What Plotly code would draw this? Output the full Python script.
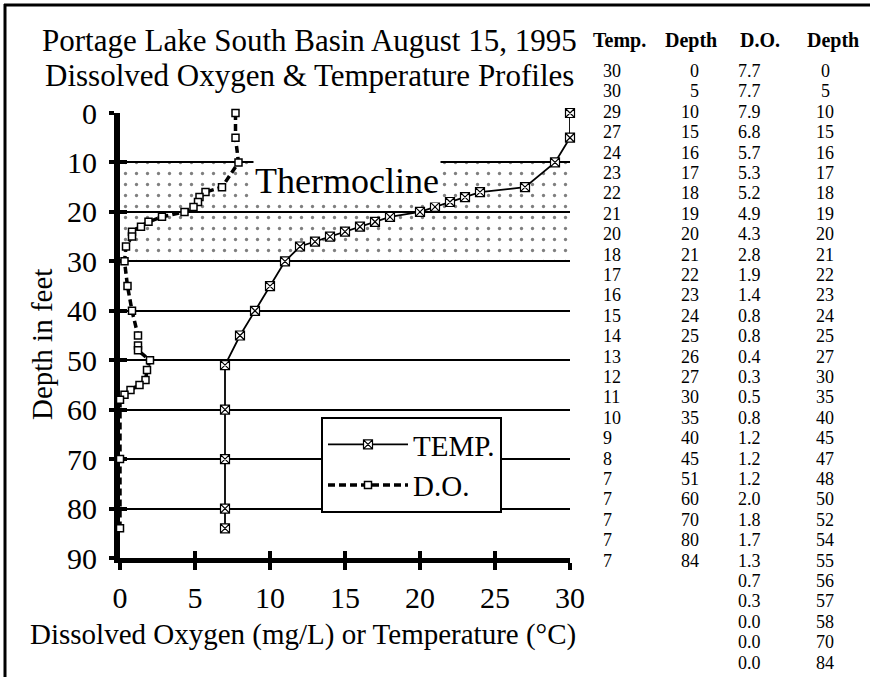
import plotly.graph_objects as go

# ---------------- data ----------------
temp_c = [30, 30, 29, 27, 24, 23, 22, 21, 20, 18, 17, 16, 15, 14, 13, 12, 11, 10, 9, 8, 7, 7, 7, 7, 7]
temp_depth_ft = [0, 5, 10, 15, 16, 17, 18, 19, 20, 21, 22, 23, 24, 25, 26, 27, 30, 35, 40, 45, 51, 60, 70, 80, 84]
do_mgl = [7.7, 7.7, 7.9, 6.8, 5.7, 5.3, 5.2, 4.9, 4.3, 2.8, 1.9, 1.4, 0.8, 0.8, 0.4, 0.3, 0.5, 0.8,
          1.2, 1.2, 1.2, 2.0, 1.8, 1.7, 1.3, 0.7, 0.3, 0.0, 0.0, 0.0]
do_depth_ft = [0, 5, 10, 15, 16, 17, 18, 19, 20, 21, 22, 23, 24, 25, 27, 30, 35, 40, 45, 47, 48, 50,
               52, 54, 55, 56, 57, 58, 70, 84]
x_ticks = [0, 5, 10, 15, 20, 25, 30]
y_ticks = [0, 10, 20, 30, 40, 50, 60, 70, 80, 90]
x_range = [0, 30]
y_range = [90, 0]
thermocline_depth_ft = [10, 30]
table_headers = ["Temp.", "Depth", "D.O.", "Depth"]
title_lines = ["Portage Lake South Basin August 15, 1995", "Dissolved Oxygen & Temperature Profiles"]

# ---------------- geometry ----------------
W, H = 870, 677
L, T, R, B = 120, 113, 300, 119
PW, PH = W - L - R, H - T - B
FONT = "Liberation Serif, Times New Roman, serif"


def xp(px):
    return (px - L) / PW


def yp(py):
    return (T + PH - py) / PH


fig = go.Figure()

# Thermocline band (dotted)
fig.add_trace(go.Scatter(
    x=[x_range[0], x_range[1], x_range[1], x_range[0], x_range[0]],
    y=[thermocline_depth_ft[0], thermocline_depth_ft[0], thermocline_depth_ft[1], thermocline_depth_ft[1],
       thermocline_depth_ft[0]],
    mode="none", fill="toself", fillcolor="rgba(0,0,0,0)",
    fillpattern=dict(shape=".", size=11, solidity=0.07, fgcolor="black", bgcolor="rgba(0,0,0,0)"),
    showlegend=False, hoverinfo="skip", xaxis="x", yaxis="y",
))

fig.add_trace(go.Scatter(
    x=temp_c, y=temp_depth_ft, name="TEMP.", mode="lines+markers",
    line=dict(color="black", width=1.8),
    marker=dict(symbol="square-x", size=9, color="white", line=dict(color="black", width=1.2)),
    cliponaxis=False, xaxis="x2", yaxis="y2",
))
fig.add_trace(go.Scatter(
    x=do_mgl, y=do_depth_ft, name="D.O.", mode="lines+markers",
    line=dict(color="black", width=3.5, dash="7px,4px"),
    marker=dict(symbol="square", size=7, color="white", line=dict(color="black", width=1.5)),
    cliponaxis=False, xaxis="x2", yaxis="y2",
))

ann = []
# Title
ann.append(dict(text=title_lines[0], x=xp(309), y=yp(40.5), xref="paper", yref="paper",
                showarrow=False, font=dict(size=31), xanchor="center", yanchor="middle", borderpad=0))
ann.append(dict(text=title_lines[1], x=xp(309), y=yp(75.5), xref="paper", yref="paper",
                showarrow=False, font=dict(size=31), xanchor="center", yanchor="middle", borderpad=0))
# Axis titles
ann.append(dict(text="Depth in feet", x=xp(42), y=yp(345), xref="paper", yref="paper", textangle=-90,
                showarrow=False, font=dict(size=29), xanchor="center", yanchor="middle"))
ann.append(dict(text="Dissolved Oxygen (mg/L) or Temperature (°C)", x=xp(303), y=yp(634), xref="paper",
                yref="paper", showarrow=False, font=dict(size=29), xanchor="center", yanchor="middle"))
# Thermocline label
ann.append(dict(text="Thermocline", x=xp(347), y=yp(181), xref="paper", yref="paper",
                showarrow=False, font=dict(size=36), xanchor="center", yanchor="middle",
                bgcolor="white", borderpad=1))

# Table
hdr_x = [592, 664, 739, 806]
for h, hx in zip(table_headers, hdr_x):
    ann.append(dict(text="<b>" + h + "</b>", x=xp(hx), y=yp(40), xref="paper", yref="paper",
                    showarrow=False, font=dict(size=20), xanchor="left", yanchor="middle", borderpad=0))
row0, dy = 71, 20.4
TF = 18
for i, (t, d) in enumerate(zip(temp_c, temp_depth_ft)):
    yy = yp(row0 + i * dy)
    ann.append(dict(text=str(t), x=xp(602), y=yy, xref="paper", yref="paper", showarrow=False,
                    font=dict(size=TF), xanchor="left", yanchor="middle", borderpad=0))
    ann.append(dict(text=str(d), x=xp(700), y=yy, xref="paper", yref="paper", showarrow=False,
                    font=dict(size=TF), xanchor="right", yanchor="middle", borderpad=0))
for i, (o, d) in enumerate(zip(do_mgl, do_depth_ft)):
    yy = yp(row0 + i * dy)
    ann.append(dict(text=f"{o:.1f}", x=xp(737), y=yy, xref="paper", yref="paper", showarrow=False,
                    font=dict(size=TF), xanchor="left", yanchor="middle", borderpad=0))
    ann.append(dict(text=str(d), x=xp(825), y=yy, xref="paper", yref="paper", showarrow=False,
                    font=dict(size=TF), xanchor="center", yanchor="middle", borderpad=0))

shapes = [
    dict(type="line", xref="paper", yref="paper", x0=xp(4), x1=xp(W), y0=yp(5), y1=yp(5),
         line=dict(color="black", width=3)),
    dict(type="line", xref="paper", yref="paper", x0=xp(5), x1=xp(5), y0=yp(4), y1=yp(H),
         line=dict(color="black", width=3)),
]

axis_common = dict(showgrid=False, zeroline=False, tickcolor="black", linecolor="black", fixedrange=True)
fig.update_layout(
    width=W, height=H,
    margin=dict(l=L, r=R, t=T, b=B, pad=0),
    paper_bgcolor="white", plot_bgcolor="white",
    font=dict(family=FONT, color="black"),
    xaxis=dict(range=x_range, tickvals=x_ticks, ticks="outside", ticklen=7, tickwidth=4,
               showline=True, linewidth=5, tickfont=dict(size=30), ticklabelstandoff=2,
               layer="below traces", **axis_common),
    yaxis=dict(range=y_range, tickvals=y_ticks, ticks="outside", ticklen=5, tickwidth=4,
               showline=True, linewidth=6, tickfont=dict(size=30), ticklabelstandoff=6,
               layer="below traces",
               **{**axis_common, "showgrid": True}, gridcolor="black", gridwidth=1.5),
    xaxis2=dict(range=x_range, tickvals=x_ticks, ticks="inside", ticklen=7, tickwidth=4,
                showticklabels=False, overlaying="x", anchor="y2", side="bottom", showline=False,
                layer="below traces", **axis_common),
    yaxis2=dict(range=y_range, tickvals=y_ticks, ticks="inside", ticklen=7, tickwidth=4,
                showticklabels=False, overlaying="y", anchor="x2", side="left", showline=False,
                layer="below traces", **axis_common),
    legend=dict(x=xp(321), y=yp(417), xanchor="left", yanchor="top", bgcolor="white",
                bordercolor="black", borderwidth=2, font=dict(size=29), itemwidth=80,
                tracegroupgap=0),
    annotations=ann,
    shapes=shapes,
)

fig.write_html("out.html", config={"displayModeBar": False},
               post_script="document.body.style.margin='0px';document.body.style.overflow='hidden';")
